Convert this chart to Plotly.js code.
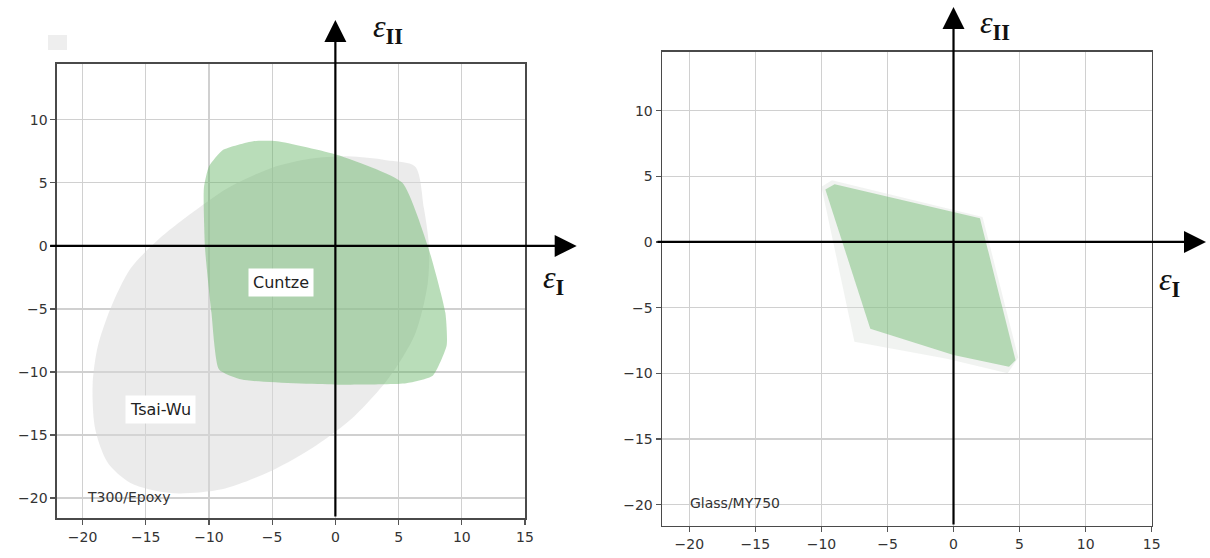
<!DOCTYPE html>
<html>
<head>
<meta charset="utf-8">
<script src="https://cdn.plot.ly/plotly-3.0.1.min.js"></script>
<style>html,body{margin:0;padding:0;background:#fff;}#chart{width:1210px;height:558px;}</style>
</head>
<body>
<div id="chart"></div>
<script>
// ---- Data ----
// Left panel: T300/Epoxy
const tsaiWuX = [6.3, 7.0, 7.4, 7.3, 6.3, 4.2, 1.5, -1.5, -5.0, -9.0, -13.0, -16.2, -18.0, -19.0, -19.2, -18.8, -17.8, -16.2, -14.0, -11.5, -8.5, -5.0, -2.0, 1.0, 4.0, 6.3];
const tsaiWuY = [6.3, 3.0, 0.0, -3.0, -7.0, -10.5, -13.5, -15.8, -17.8, -19.3, -19.6, -18.8, -17.2, -14.5, -11.0, -8.0, -5.0, -1.8, 0.5, 2.5, 4.6, 6.2, 6.9, 7.1, 6.8, 6.3];
const cuntzeX = [-10.4, -10.3, -9.8, -9.2, -7.4, 0.2, 5.6, 7.7, 8.8, 8.7, 7.4, 5.3, 0.2, -4.6, -6.5, -8.9, -10.0, -10.4];
const cuntzeY = [4.6, -0.3, -5.3, -9.8, -10.6, -11.0, -10.9, -10.3, -7.9, -5.3, -0.3, 5.0, 7.2, 8.3, 8.3, 7.6, 6.3, 4.6];
// Right panel: Glass/MY750
const glassOuterX = [-9.2, 2.2, 4.9, 4.1, -0.5, -7.5, -10.0, -9.2];
const glassOuterY = [4.7, 1.9, -8.8, -10.0, -8.9, -7.6, 4.2, 4.7];
const glassInnerX = [-9.7, -9.0, 2.0, 4.7, 4.2, 0.0, -6.3, -9.7];
const glassInnerY = [4.0, 4.4, 1.8, -9.0, -9.5, -8.6, -6.6, 4.0];
// Ticks
const xTicks = [-20, -15, -10, -5, 0, 5, 10, 15];
const yTicks = [-20, -15, -10, -5, 0, 5, 10];

const FONT = 'DejaVu Sans, sans-serif';
const gray = 'rgba(215,215,215,0.5)';
const green = 'rgba(100,180,100,0.45)';

const traces = [
  {x: tsaiWuX, y: tsaiWuY, xaxis: 'x', yaxis: 'y', type: 'scatter', mode: 'lines', fill: 'toself',
   fillcolor: gray, line: {width: 0, shape: 'spline', smoothing: 0.8}, hoverinfo: 'skip', showlegend: false},
  {x: cuntzeX, y: cuntzeY, xaxis: 'x', yaxis: 'y', type: 'scatter', mode: 'lines', fill: 'toself',
   fillcolor: green, line: {width: 0, shape: 'spline', smoothing: 0.5}, hoverinfo: 'skip', showlegend: false},
  {x: glassOuterX, y: glassOuterY, xaxis: 'x2', yaxis: 'y2', type: 'scatter', mode: 'lines', fill: 'toself',
   fillcolor: 'rgba(215,222,215,0.35)', line: {width: 0}, hoverinfo: 'skip', showlegend: false},
  {x: glassInnerX, y: glassInnerY, xaxis: 'x2', yaxis: 'y2', type: 'scatter', mode: 'lines', fill: 'toself',
   fillcolor: 'rgba(110,185,110,0.47)', line: {width: 0}, hoverinfo: 'skip', showlegend: false}
];

function xax(domain, range, anchor) {
  return {domain: domain, range: range, anchor: anchor, tickvals: xTicks, showgrid: true, gridcolor: '#d0d0d0', gridwidth: 1.3,
    zeroline: false, showline: true, mirror: true, linecolor: '#4a4a4a', linewidth: 1.8, ticks: 'outside',
    ticklen: 5, tickwidth: 1.3, tickcolor: '#555', tickfont: {family: FONT, size: 14, color: '#333'}, fixedrange: true};
}
function yax(domain, range, anchor) {
  return {domain: domain, range: range, anchor: anchor, tickvals: yTicks, showgrid: true, gridcolor: '#d0d0d0', gridwidth: 1.3,
    zeroline: false, showline: true, mirror: true, linecolor: '#4a4a4a', linewidth: 1.8, ticks: 'outside',
    ticklen: 5, tickwidth: 1.3, tickcolor: '#555', tickfont: {family: FONT, size: 14, color: '#333'}, fixedrange: true};
}

const arrowCommon = {text: '', showarrow: true, arrowhead: 2, arrowsize: 2, arrowwidth: 2.2, arrowcolor: '#000', axref: 'pixel', ayref: 'pixel'};
const epsFont = {family: 'Liberation Serif, DejaVu Serif, serif', size: 32, color: '#111'};
const labelFont = {family: FONT, size: 16, color: '#222'};

const annotations = [
  // Left axes arrows
  Object.assign({xref: 'x', yref: 'paper', x: 0, y: 0.964, ax: 0, ay: 498}, arrowCommon),
  Object.assign({xref: 'paper', yref: 'y', x: 0.4766, y: 0, ax: -528, ay: 0}, arrowCommon),
  // Right axes arrows
  Object.assign({xref: 'x2', yref: 'paper', x: 0, y: 0.9875, ax: 0, ay: 519}, arrowCommon),
  Object.assign({xref: 'paper', yref: 'y2', x: 0.9967, y: 0, ax: -550, ay: 0}, arrowCommon),
  // Axis symbols
  {xref: 'paper', yref: 'paper', x: 0.3066, y: 1, yanchor: 'top', yshift: -6, text: '<i>ε</i><sub><b>II</b></sub>', showarrow: false, font: epsFont},
  {xref: 'paper', yref: 'paper', x: 0.4575, y: 0.50, text: '<i>ε</i><sub><b>I</b></sub>', showarrow: false, font: epsFont},
  {xref: 'paper', yref: 'paper', x: 0.8364, y: 1, yanchor: 'top', yshift: -2, text: '<i>ε</i><sub><b>II</b></sub>', showarrow: false, font: epsFont},
  {xref: 'paper', yref: 'paper', x: 0.9765, y: 0.496, text: '<i>ε</i><sub><b>I</b></sub>', showarrow: false, font: epsFont},
  // Labels
  {xref: 'x', yref: 'y', x: -4.3, y: -2.9, text: 'Cuntze', showarrow: false, font: labelFont, bgcolor: '#fff', borderpad: 4},
  {xref: 'x', yref: 'y', x: -13.8, y: -13.0, text: 'Tsai-Wu', showarrow: false, font: labelFont, bgcolor: '#fff', borderpad: 4},
  {xref: 'x', yref: 'y', x: -19.8, y: -19.9, text: 'T300/Epoxy', xanchor: 'left', showarrow: false, font: {family: FONT, size: 14, color: '#333'}},
  {xref: 'x2', yref: 'y2', x: -20.1, y: -19.85, text: 'Glass/MY750', xanchor: 'left', showarrow: false, font: {family: FONT, size: 14, color: '#333'}}
];

const layout = {
  width: 1210, height: 558,
  margin: {l: 0, r: 0, t: 0, b: 0},
  paper_bgcolor: '#fff', plot_bgcolor: 'rgba(0,0,0,0)',
  showlegend: false,
  xaxis: xax([0.0473, 0.4339], [-22.0, 15], 'y'),
  yaxis: yax([0.0711, 0.8848], [-21.6, 14.4], 'x'),
  xaxis2: xax([0.5474, 0.9518], [-22.04, 15], 'y2'),
  yaxis2: yax([0.0579, 0.9063], [-21.6, 14.44], 'x2'),
  annotations: annotations,
  shapes: [
    {type: 'rect', xref: 'paper', yref: 'paper', x0: 48/1210, x1: 67/1210, y0: 1 - 50/558, y1: 1 - 35/558,
     fillcolor: '#eeeeee', line: {width: 0}, layer: 'below'}
  ]
};

Plotly.newPlot('chart', traces, layout, {staticPlot: true, displayModeBar: false});
</script>
</body>
</html>
